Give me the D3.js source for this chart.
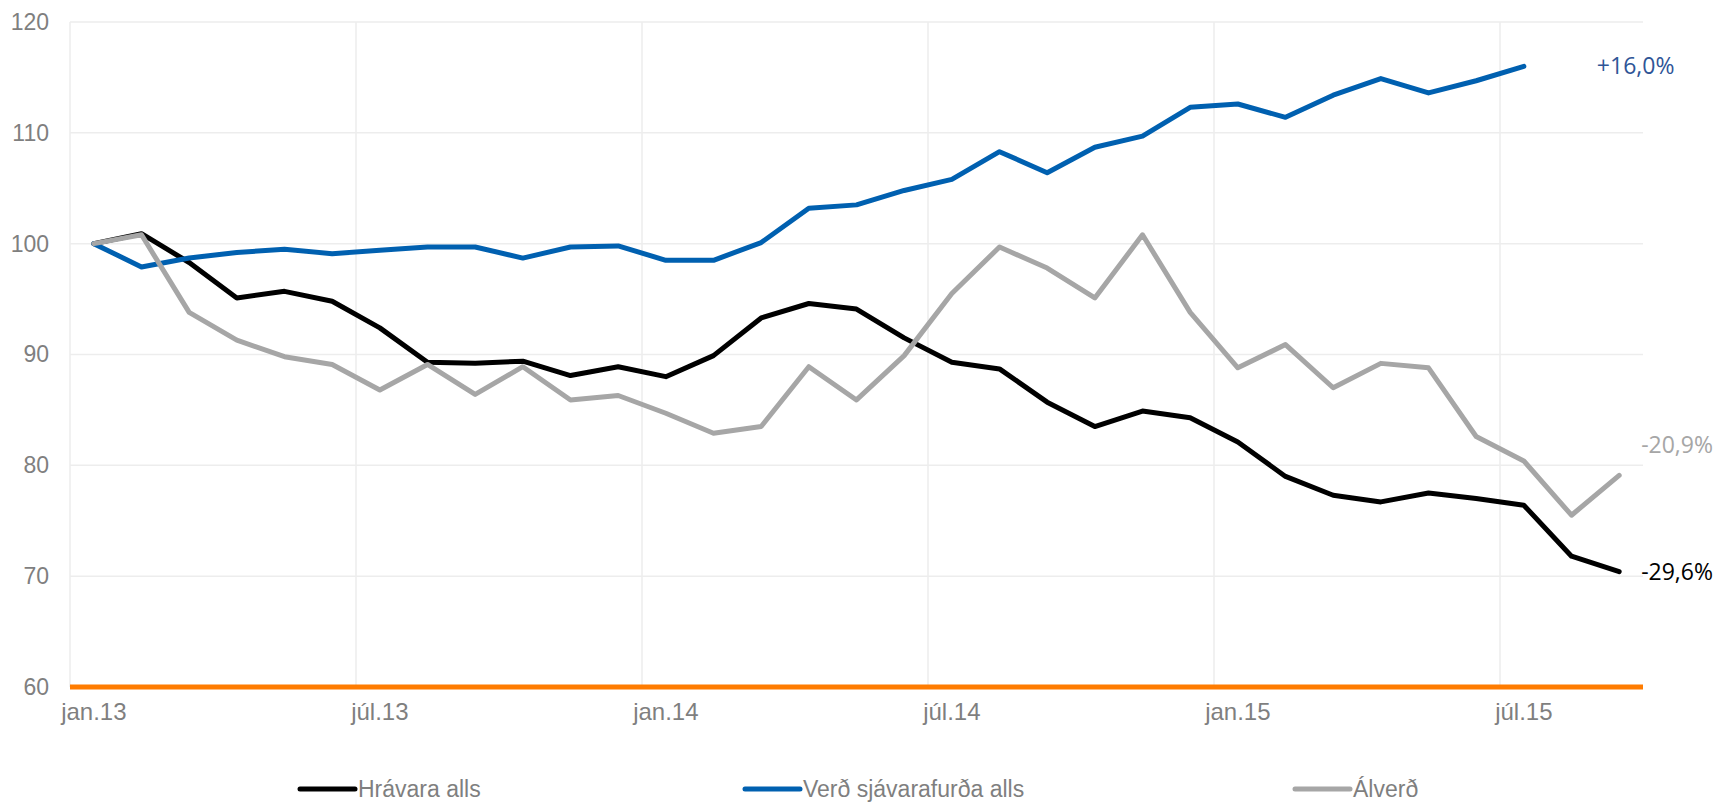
<!DOCTYPE html>
<html>
<head>
<meta charset="utf-8">
<script src="https://cdn.jsdelivr.net/npm/d3@7"></script>
<style>
  body { margin: 0; background: #fff; }
  svg { display: block; }
</style>
</head>
<body>
<script>
//variables
var cWidth = 1723;
var cHeight = 803;

// months jan.13 - sep.15
var months = ["jan.13","feb.13","mar.13","apr.13","maí.13","jún.13","júl.13","ágú.13","sep.13","okt.13","nóv.13","des.13",
              "jan.14","feb.14","mar.14","apr.14","maí.14","jún.14","júl.14","ágú.14","sep.14","okt.14","nóv.14","des.14",
              "jan.15","feb.15","mar.15","apr.15","maí.15","jún.15","júl.15","ágú.15","sep.15"];
var tickLabels = ["jan.13","júl.13","jan.14","júl.14","jan.15","júl.15"];
var yTicks = [60, 70, 80, 90, 100, 110, 120];

var seriesNames = ["Hrávara alls", "Verð sjávarafurða alls", "Álverð"];
var seriesColors = ["#000000", "#0060b0", "#a6a6a6"];

var hravara = [100, 100.9, 98.3, 95.1, 95.7, 94.8, 92.4, 89.3, 89.2, 89.4, 88.1, 88.9,
               88.0, 89.9, 93.3, 94.6, 94.1, 91.5, 89.3, 88.7, 85.7, 83.5, 84.9, 84.3,
               82.1, 79.0, 77.3, 76.7, 77.5, 77.0, 76.4, 71.8, 70.4];
var sjavarafurdir = [100, 97.9, 98.7, 99.2, 99.5, 99.1, 99.4, 99.7, 99.7, 98.7, 99.7, 99.8,
                     98.5, 98.5, 100.1, 103.2, 103.5, 104.8, 105.8, 108.3, 106.4, 108.7, 109.7, 112.3,
                     112.6, 111.4, 113.4, 114.9, 113.6, 114.7, 116.0];
var alverd = [100, 100.8, 93.8, 91.3, 89.8, 89.1, 86.8, 89.1, 86.4, 88.9, 85.9, 86.3,
              84.7, 82.9, 83.5, 88.9, 85.9, 89.9, 95.5, 99.7, 97.8, 95.1, 100.8, 93.8,
              88.8, 90.9, 87.0, 89.2, 88.8, 82.6, 80.4, 75.5, 79.1];
var endLabels = ["-29,6%", "+16,0%", "-20,9%"];
var labelColors = ["#000000", "#2f5597", "#a6a6a6"];

var allSeries = [hravara, sjavarafurdir, alverd];

var xScale = d3.scaleBand()
    .domain(months)
    .range([70, 1643])
    .padding(0);

var yScale = d3.scaleLinear()
    .domain([60, 120])
    .range([687, 22]);

var canvas = d3.select("body")
    .append("svg")
    .attr("width", cWidth)
    .attr("height", cHeight)
    .style("font-family", "'Liberation Sans', Arial, sans-serif");

//horizontal gridlines
canvas.append("g")
    .selectAll("line")
    .data(yTicks.slice(1))
    .enter()
    .append("line")
    .attr("x1", xScale.range()[0])
    .attr("x2", xScale.range()[1])
    .attr("y1", yScale)
    .attr("y2", yScale)
    .attr("stroke", "#ededed")
    .attr("stroke-width", 1.5);

//vertical gridlines, every six months at category edge
canvas.append("g")
    .selectAll("line")
    .data(tickLabels)
    .enter()
    .append("line")
    .attr("x1", function(d) {return xScale(d);})
    .attr("x2", function(d) {return xScale(d);})
    .attr("y1", yScale(120))
    .attr("y2", yScale(60))
    .attr("stroke", "#ededed")
    .attr("stroke-width", 1.5);

//y axis labels
var yAxis = canvas.append("g")
    .attr("transform", "translate(" + xScale.range()[0] + ",0)")
    .call(d3.axisLeft(yScale).tickValues(yTicks).tickSize(0).tickPadding(21));
yAxis.select(".domain").remove();
yAxis.selectAll("text")
    .attr("fill", "#7f7f7f")
    .style("font-size", "23px")
    .style("font-family", "'Liberation Sans', Arial, sans-serif");

//x axis labels
var xAxis = canvas.append("g")
    .attr("transform", "translate(0," + yScale(60) + ")")
    .call(d3.axisBottom(xScale).tickValues(tickLabels).tickSize(0).tickPadding(16));
xAxis.select(".domain").remove();
xAxis.selectAll("text")
    .attr("fill", "#7f7f7f")
    .style("font-size", "24px")
    .style("font-family", "'Liberation Sans', Arial, sans-serif");

//orange baseline
canvas.append("line")
    .attr("x1", xScale.range()[0])
    .attr("x2", xScale.range()[1])
    .attr("y1", yScale(60))
    .attr("y2", yScale(60))
    .attr("stroke", "#ff7c00")
    .attr("stroke-width", 5);

var line = d3.line()
    .x(function(d, i) {return xPosition(i);})
    .y(function(d) {return yScale(d);});

canvas.append("g")
    .selectAll("path")
    .data(allSeries)
    .enter()
    .append("path")
    .attr("d", line)
    .attr("fill", "none")
    .attr("stroke", function(d, i) {return seriesColors[i];})
    .attr("stroke-width", 5)
    .attr("stroke-linejoin", "round")
    .attr("stroke-linecap", "round");

//labels at the end of each line
var labelOffsets = [[22, 0], [73, 0], [22, -30]];
canvas.append("g")
    .selectAll("text")
    .data(allSeries)
    .enter()
    .append("text")
    .attr("x", function(d, i) {return xPosition(d.length - 1) + labelOffsets[i][0];})
    .attr("y", function(d, i) {return yScale(d[d.length - 1]) + labelOffsets[i][1];})
    .attr("dy", "0.35em")
    .attr("fill", function(d, i) {return labelColors[i];})
    .style("font-family", "'Open Sans', sans-serif")
    .style("font-size", "23px")
    .text(function(d, i) {return endLabels[i];});

//legend
var legendX = [300, 745, 1295];
var legend = canvas.append("g")
    .selectAll("g")
    .data(seriesNames)
    .enter()
    .append("g")
    .attr("transform", function(d, i) {return "translate(" + legendX[i] + ",789)";});

legend.append("line")
    .attr("x1", 0)
    .attr("x2", 55)
    .attr("stroke", function(d, i) {return seriesColors[i];})
    .attr("stroke-width", 5)
    .attr("stroke-linecap", "round");

legend.append("text")
    .attr("x", 58)
    .attr("dy", "0.35em")
    .attr("fill", "#7f7f7f")
    .style("font-size", "23px")
    .text(function(d) {return d;});

// assisting functions
function xPosition(i) {return xScale(months[i]) + xScale.bandwidth() / 2;}
</script>
</body>
</html>
